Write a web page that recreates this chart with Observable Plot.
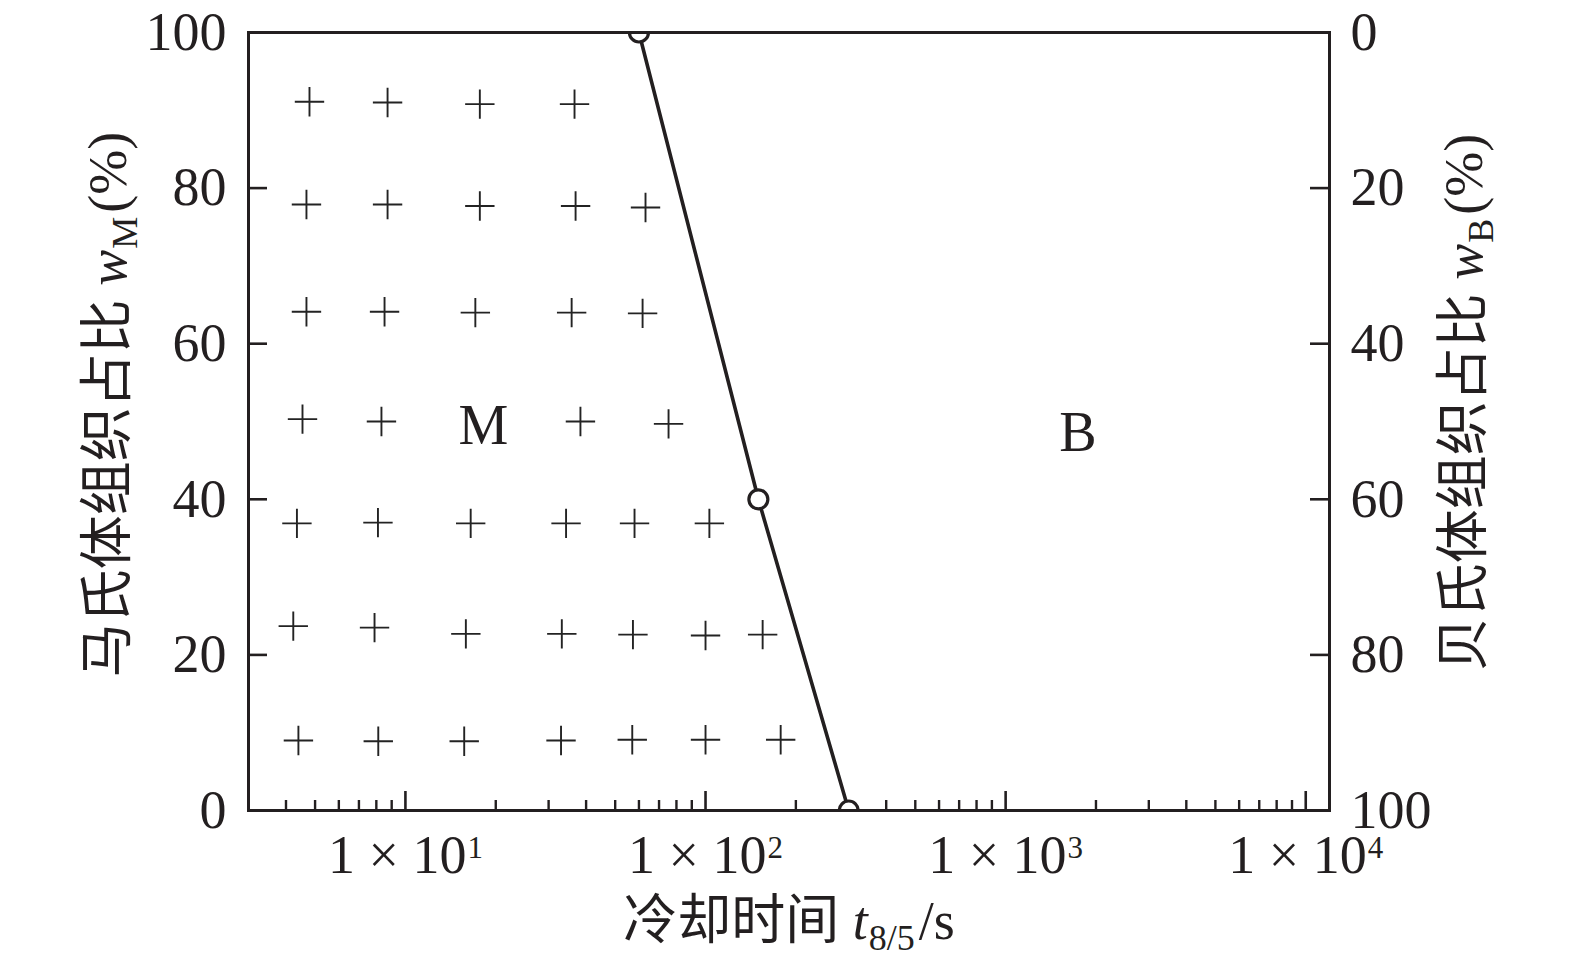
<!DOCTYPE html>
<html>
<head>
<meta charset="utf-8">
<script src="https://cdn.jsdelivr.net/npm/d3@7"></script>
<script src="https://cdn.jsdelivr.net/npm/@observablehq/plot@0.6"></script>
<style>
  html, body { margin: 0; padding: 0; background: #fff; }
</style>
</head>
<body>
<div id="chart"></div>
<script>
// ---- data ----
const yTicks = [0, 20, 40, 60, 80, 100];
const wBTickLabels = ["100", "80", "60", "40", "20", "0"];
const xMajorTicks = [10, 100, 1000, 10000];
const xMajorExponents = ["1", "2", "3", "4"];
const xMinorTicks = [4, 5, 6, 7, 8, 9,
  20, 30, 40, 50, 60, 70, 80, 90,
  200, 300, 400, 500, 600, 700, 800, 900,
  2000, 3000, 4000, 5000, 6000, 7000, 8000, 9000];

// measured points (cooling time t8/5 in s, martensite fraction in %)
const plusT = [
  4.79, 8.72, 17.7, 36.6,
  4.68, 8.72, 17.7, 36.9, 63.1,
  4.68, 8.52, 17.1, 35.8, 61.7,
  4.54, 8.32, 38.3, 75.3,
  4.35, 8.10, 16.5, 34.3, 58.0, 103,
  4.23, 7.89, 15.9, 33.2, 57.3, 100, 155,
  4.40, 8.12, 15.7, 33.0, 57.0, 100, 178
];
const plusW = [
  91.1, 91.0, 90.8, 90.8,
  77.9, 77.9, 77.7, 77.7, 77.5,
  64.1, 64.1, 64.0, 64.0, 63.9,
  50.3, 50.0, 50.0, 49.7,
  36.9, 37.0, 36.9, 36.9, 36.9, 36.9,
  23.7, 23.5, 22.7, 22.7, 22.6, 22.5, 22.6,
  9.0, 8.9, 8.9, 9.0, 9.1, 9.1, 9.1
];

// M / B boundary
const boundaryT = [60, 150, 300];
const boundaryW = [100, 40, 0];

// region labels
const regionLabels = ["M", "B"];
const regionT = [18.2, 1740];
const regionW = [49.4, 48.5];

// titles (rich parts)
const xTitleParts = ["冷却时间 ", "t", "8/5", "/s"];
const leftTitleParts = ["马氏体组织占比 ", "w", "M", "(%)"];
const rightTitleParts = ["贝氏体组织占比 ", "w", "B", "(%)"];

// ---- chart ----
const FONT = "'Liberation Serif', 'Times New Roman', 'Noto Sans CJK SC', serif";
const INK = "#231f20";
const W = 1575, H = 969;
const mL = 248, mR = 246, mT = 32, mB = 159;
const pw = W - mL - mR, ph = H - mT - mB;

const plusIdx = d3.range(plusT.length);
const bIdx = d3.range(boundaryT.length);
const rIdx = d3.range(regionLabels.length);

const chart = Plot.plot({
  width: W, height: H,
  marginLeft: mL, marginRight: mR, marginTop: mT, marginBottom: mB,
  style: { fontFamily: FONT, background: "#fff", color: INK },
  x: { type: "log", domain: [3, 12000], axis: null },
  y: { domain: [0, 100], axis: null },
  marks: [
    // inward ticks
    Plot.ruleY(yTicks, { y: d => d, insetRight: pw - 19, stroke: INK, strokeWidth: 2.6 }),
    Plot.ruleY(yTicks, { y: d => d, insetLeft: pw - 19, stroke: INK, strokeWidth: 2.6 }),
    Plot.ruleX(xMajorTicks, { x: d => d, insetTop: ph - 19, stroke: INK, strokeWidth: 2.6 }),
    Plot.ruleX(xMinorTicks, { x: d => d, insetTop: ph - 10, stroke: INK, strokeWidth: 2.4 }),
    // data crosses
    Plot.dot(plusIdx, { x: i => plusT[i], y: i => plusW[i], symbol: "plus", r: 9.5, stroke: "#232323", strokeWidth: 1.9 }),
    // boundary
    Plot.line(bIdx, { x: i => boundaryT[i], y: i => boundaryW[i], stroke: INK, strokeWidth: 3.6, clip: true }),
    Plot.dot(bIdx, { x: i => boundaryT[i], y: i => boundaryW[i], r: 9.5, fill: "#fff", stroke: INK, strokeWidth: 3.2, clip: true }),
    Plot.frame({ stroke: INK, strokeWidth: 3 }),
    // region labels
    Plot.text(rIdx, { x: i => regionT[i], y: i => regionW[i], text: i => regionLabels[i], fontSize: 56, fill: INK }),
    // left tick labels
    Plot.text(yTicks, { y: d => d, text: d => String(d), frameAnchor: "left", textAnchor: "end", dx: -22, fontSize: 54, fill: INK }),
    // right tick labels (w_B = 100 - w_M)
    Plot.text(yTicks, { y: d => d, text: (d, i) => wBTickLabels[i], frameAnchor: "right", textAnchor: "start", dx: 21, fontSize: 54, fill: INK }),
    // x tick labels
    Plot.text(xMajorTicks, { x: d => d, text: d => "1 × 10", frameAnchor: "bottom", textAnchor: "middle", lineAnchor: "bottom", dy: 62, fontSize: 54, fill: INK }),
    // axis titles
    Plot.text([xTitleParts.join("")], { frameAnchor: "bottom", textAnchor: "middle", lineAnchor: "bottom", dy: 128, fontSize: 54, fill: INK }),
    Plot.text([leftTitleParts.join("")], { frameAnchor: "left", textAnchor: "middle", lineAnchor: "middle", rotate: -90, dx: -140, dy: -17, fontSize: 54, fill: INK }),
    Plot.text([rightTitleParts.join("")], { frameAnchor: "right", textAnchor: "middle", lineAnchor: "middle", rotate: -90, dx: 135, dy: -19, fontSize: 54, fill: INK })
  ]
});

document.getElementById("chart").appendChild(chart);

// ---- rich text (italic, sub/superscripts) ----
const svgNS = "http://www.w3.org/2000/svg";
function rich(el, parts) {
  el.textContent = "";
  for (const p of parts) {
    const ts = document.createElementNS(svgNS, "tspan");
    ts.textContent = p.t;
    if (p.italic) ts.setAttribute("font-style", "italic");
    if (p.size) ts.setAttribute("font-size", p.size);
    if (p.dy) ts.setAttribute("dy", p.dy);
    if (p.dx) ts.setAttribute("dx", p.dx);
    el.appendChild(ts);
  }
}
function titleParts(parts) {
  return [
    { t: parts[0] },
    { t: parts[1], italic: true },
    { t: parts[2], size: 36, dy: 11, dx: 1 },
    { t: parts[3], size: 54, dy: -11, dx: 4 }
  ];
}
let xk = 0;
d3.select(chart).selectAll("text").each(function () {
  const s = this.textContent;
  if (s === "1 × 10") {
    rich(this, [{ t: "1 × 10" }, { t: xMajorExponents[xk++], size: 31, dy: -15, dx: 1 }]);
  } else if (s === xTitleParts.join("")) {
    rich(this, titleParts(xTitleParts));
  } else if (s === leftTitleParts.join("")) {
    rich(this, titleParts(leftTitleParts));
  } else if (s === rightTitleParts.join("")) {
    rich(this, titleParts(rightTitleParts));
  }
});
</script>
</body>
</html>
